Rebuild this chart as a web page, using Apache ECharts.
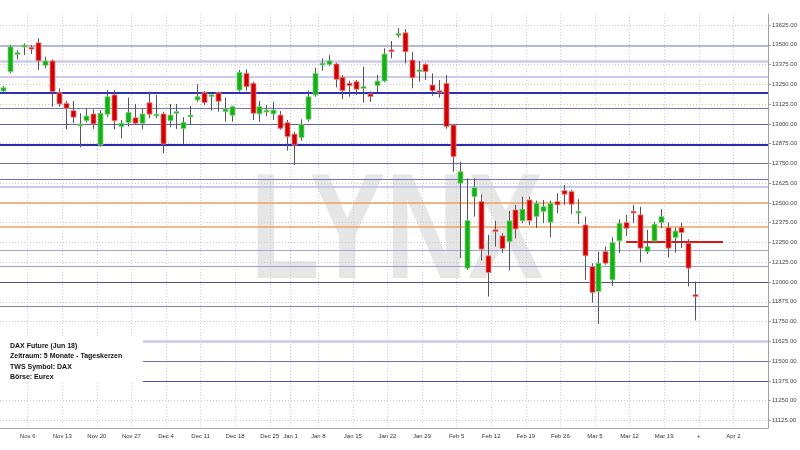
<!DOCTYPE html>
<html>
<head>
<meta charset="utf-8">
<script src="https://cdn.jsdelivr.net/npm/echarts@6/dist/echarts.min.js"></script>
<style>html,body{margin:0;padding:0;background:#fff}#c{width:800px;height:450px}</style>
</head>
<body>
<div id="c"></div>
<script>
// Trading days (category axis) incl. future weekdays
const dates = [
 "2017-10-31","2017-11-01","2017-11-02","2017-11-03",
 "2017-11-06","2017-11-07","2017-11-08","2017-11-09","2017-11-10",
 "2017-11-13","2017-11-14","2017-11-15","2017-11-16","2017-11-17",
 "2017-11-20","2017-11-21","2017-11-22","2017-11-23","2017-11-24",
 "2017-11-27","2017-11-28","2017-11-29","2017-11-30","2017-12-01",
 "2017-12-04","2017-12-05","2017-12-06","2017-12-07","2017-12-08",
 "2017-12-11","2017-12-12","2017-12-13","2017-12-14","2017-12-15",
 "2017-12-18","2017-12-19","2017-12-20","2017-12-21","2017-12-22",
 "2017-12-27","2017-12-28","2017-12-29",
 "2018-01-02","2018-01-03","2018-01-04","2018-01-05",
 "2018-01-08","2018-01-09","2018-01-10","2018-01-11","2018-01-12",
 "2018-01-15","2018-01-16","2018-01-17","2018-01-18","2018-01-19",
 "2018-01-22","2018-01-23","2018-01-24","2018-01-25","2018-01-26",
 "2018-01-29","2018-01-30","2018-01-31","2018-02-01","2018-02-02",
 "2018-02-05","2018-02-06","2018-02-07","2018-02-08","2018-02-09",
 "2018-02-12","2018-02-13","2018-02-14","2018-02-15","2018-02-16",
 "2018-02-19","2018-02-20","2018-02-21","2018-02-22","2018-02-23",
 "2018-02-26","2018-02-27","2018-02-28","2018-03-01","2018-03-02",
 "2018-03-05","2018-03-06","2018-03-07","2018-03-08","2018-03-09",
 "2018-03-12","2018-03-13","2018-03-14","2018-03-15","2018-03-16",
 "2018-03-19","2018-03-20","2018-03-21","2018-03-22","2018-03-23",
 "2018-03-26","2018-03-27","2018-03-28","2018-03-29","2018-03-30",
 "2018-04-02","2018-04-03","2018-04-04","2018-04-05","2018-04-06"
];
const opens = [13208,13330,13443,13490,13484,13513,13370,13398,13197,13130,13084,12991,13020,13063,12867,13061,13183,12983,13008,13039,13004,13134,13054,13063,13020,13071,12970,13048,13151,13197,13176,13197,13077,13054,13214,13320,13257,13063,13079,13063,13056,13008,12936,12913,13029,13183,13376,13377,13379,13295,13257,13267,13229,13189,13242,13271,13465,13564,13576,13404,13334,13377,13246,13210,13257,12993,12625,12088,12540,12509,12166,12330,12292,12256,12456,12387,12519,12414,12445,12378,12509,12578,12572,12440,12361,12098,11940,12193,12014,12260,12376,12444,12425,12193,12260,12376,12344,12281,12344,12246,11919];
const highs = [13240,13499,13467,13509,13499,13541,13425,13408,13225,13145,13145,13067,13099,13092,13088,13214,13214,13025,13166,13126,13099,13204,13183,13077,13126,13126,13042,13113,13250,13208,13193,13204,13166,13115,13341,13345,13267,13145,13120,13140,13081,13025,12951,13029,13210,13355,13414,13435,13387,13309,13273,13278,13362,13204,13309,13478,13524,13606,13600,13456,13398,13383,13320,13278,13309,12999,12761,12656,12656,12555,12298,12387,12309,12450,12488,12540,12540,12515,12519,12515,12562,12614,12583,12524,12414,12119,12193,12224,12284,12397,12425,12488,12477,12330,12382,12461,12376,12344,12376,12271,12003];
const lows = [13200,13320,13408,13435,13442,13341,13351,13109,13109,12966,13004,12852,13008,12968,12856,13044,12966,12909,12983,12993,12968,13036,13036,12814,12979,12968,12871,12993,13140,13120,13084,13077,13014,13014,13204,13210,13025,13014,13050,13025,12962,12831,12740,12894,13014,13172,13336,13366,13231,13156,13172,13183,13134,13140,13200,13263,13414,13545,13383,13225,13267,13278,13178,13166,12970,12698,12151,12077,12414,12136,11908,12224,12183,12073,12277,12372,12361,12341,12372,12283,12436,12488,12431,12368,12014,11870,11736,12109,11976,12183,12292,12372,12124,12178,12246,12341,12155,12186,12214,11972,11757];
const closes = [13229,13488,13448,13494,13473,13399,13398,13204,13126,13099,13042,12995,13050,13000,13067,13172,13020,13004,13073,13004,13063,13061,13058,12873,13056,13075,13010,13052,13172,13134,13180,13143,13094,13109,13326,13235,13067,13109,13083,13088,12972,12919,12867,12997,13172,13320,13380,13399,13282,13210,13242,13219,13233,13172,13271,13442,13460,13568,13456,13292,13338,13330,13210,13197,12983,12793,12698,12389,12597,12208,12060,12319,12212,12387,12336,12461,12389,12498,12477,12498,12488,12555,12492,12444,12166,11934,12119,12119,12250,12372,12340,12440,12214,12224,12366,12414,12214,12323,12313,12088,11909];

// Week-start tick labels
const tickDates = ["2017-11-06","2017-11-13","2017-11-20","2017-11-27","2017-12-04","2017-12-11","2017-12-18","2017-12-27","2018-01-02","2018-01-08","2018-01-15","2018-01-22","2018-01-29","2018-02-05","2018-02-12","2018-02-19","2018-02-26","2018-03-05","2018-03-12","2018-03-19","2018-03-26","2018-04-02"];
const tickLabels = ["Nov 6","Nov 13","Nov 20","Nov 27","Dec 4","Dec 11","Dec 18","Dec 25","Jan 1","Jan 8","Jan 15","Jan 22","Jan 29","Feb 5","Feb 12","Feb 19","Feb 26","Mar 5","Mar 12","Mar 19","+","Apr 2"];

// Price axis labels
const yTickValues = [11125,11250,11375,11500,11625,11750,11875,12000,12125,12250,12375,12500,12625,12750,12875,13000,13125,13250,13375,13500,13625];

// Horizontal support / resistance levels
const levelValues = [13495,13398,13298,13197,13099,12999,12869,12750,12650,12600,12502,12351,12202,12100,12000,11848,11624,11498,11371];
const levelStyles = [
 {color:'#b6b9d2',width:2},{color:'#cbcbef',width:2.5},{color:'#cbcbef',width:2},{color:'#2f2fb4',width:2},
 {color:'#7676bc',width:1},{color:'#5e5eb2',width:1},{color:'#2a2ab4',width:2},{color:'#6a6aa8',width:1},
 {color:'#7272b4',width:1},{color:'#c8c8ee',width:2},{color:'#f0a060',width:1.5},{color:'#f0a060',width:1.5},
 {color:'#a4a4da',width:1},{color:'#9a9ad2',width:1},{color:'#50508e',width:1},{color:'#8080c2',width:1},
 {color:'#c8c8ee',width:2.5},{color:'#7272b2',width:1},{color:'#52529c',width:1}
];
// Short red line
const redLineStart = "2018-03-09", redLineEnd = "2018-03-29", redLineValue = 12254;

const infoLines = ["DAX Future (Jun 18)","Zeitraum: 5 Monate - Tageskerzen","TWS Symbol: DAX","Börse: Eurex"];

const candleData = opens.map((o,i)=>[i,o,highs[i],lows[i],closes[i]]);
const tickSet = new Set(tickDates);
const tickMap = {}; tickDates.forEach((d,i)=>tickMap[d]=tickLabels[i]);
const weekInterval = (idx, val) => tickSet.has(val);

const chart = echarts.init(document.getElementById('c'), null, {renderer:'canvas'});

const markData = levelValues.map((v,i)=>({yAxis:v, lineStyle:{color:levelStyles[i].color,width:levelStyles[i].width,type:'solid'}}));
markData.push([{coord:[redLineStart,redLineValue],lineStyle:{color:'#d81818',width:2,type:'solid'}},{coord:[redLineEnd,redLineValue]}]);

chart.setOption({
  animation:false,
  backgroundColor:'#ffffff',
  textStyle:{fontFamily:'Liberation Sans, Arial, sans-serif'},
  grid:{left:-2,right:30,top:14,bottom:22,containLabel:false},
  xAxis:{
    type:'category', data:dates, boundaryGap:true,
    axisLine:{show:true,lineStyle:{color:'#a8a8a8',width:1}},
    axisTick:{show:false},
    axisLabel:{interval:weekInterval,formatter:(v)=>tickMap[v]||'',fontSize:6,color:'#333',margin:5,padding:[0,7,0,0],align:'center'},
    splitLine:{show:true,interval:weekInterval,lineStyle:{color:'#cfcfcf',type:[1,2],width:1}}
  },
  yAxis:{
    type:'value', position:'right', min:11077, max:13695, scale:true,
    axisLine:{show:true,lineStyle:{color:'#a0a0a0',width:1}},
    axisTick:{show:true,length:3,customValues:yTickValues,lineStyle:{color:'#a0a0a0'}},
    axisLabel:{customValues:yTickValues,formatter:(v)=>Number(v).toFixed(2),fontSize:6,color:'#444',margin:4},
    splitLine:{show:true,lineStyle:{color:'#c8c8c8',type:[1,2],width:1}}
  },
  graphic:[
    {type:'text',left:250,top:162,z:-10,silent:true,
     style:{text:'LYNX',font:'bold 150px "Liberation Sans", Arial, sans-serif',fill:'#e6e6e6'},
     scaleX:0.76,scaleY:1},
    {type:'rect',shape:{x:0,y:338,width:143,height:45},style:{fill:'#ffffff'},z:50,silent:true},
    {type:'text',x:10,y:341,z:51,silent:true,
     style:{text:infoLines.join('\n'),font:'bold 7px "Liberation Sans", Arial, sans-serif',fill:'#111',lineHeight:10.3}}
  ],
  series:[
    {
      type:'custom', name:'DAX', z:5,
      data:candleData,
      encode:{x:0,y:[1,2,3,4]},
      clip:true,
      renderItem:function(params, api){
        const idx = api.value(0);
        const o = api.value(1), h = api.value(2), l = api.value(3), c = api.value(4);
        const px = api.coord([idx,o]);
        const x = Math.round(px[0]);
        const yo = px[1];
        const yc = api.coord([idx,c])[1];
        const yh = api.coord([idx,h])[1];
        const yl = api.coord([idx,l])[1];
        const up = c >= o;
        let top = Math.min(yo,yc), ht = Math.abs(yo-yc);
        if (ht < 1.8) { top = (yo+yc)/2 - 0.9; ht = 1.8; }
        return {type:'group',children:[
          {type:'line',shape:{x1:x+0.5,y1:yh,x2:x+0.5,y2:yl},style:{stroke:'#555555',lineWidth:1}},
          {type:'rect',shape:{x:x-2,y:top,width:5,height:ht},
           style:{fill:up?'#14b014':'#d20000',stroke:up?'#86d686':'#ef8c8c',lineWidth:0.8}}
        ]};
      },
      markLine:{silent:true,symbol:['none','none'],label:{show:false},z:1,animation:false,data:markData}
    }
  ]
});
</script>
</body>
</html>
